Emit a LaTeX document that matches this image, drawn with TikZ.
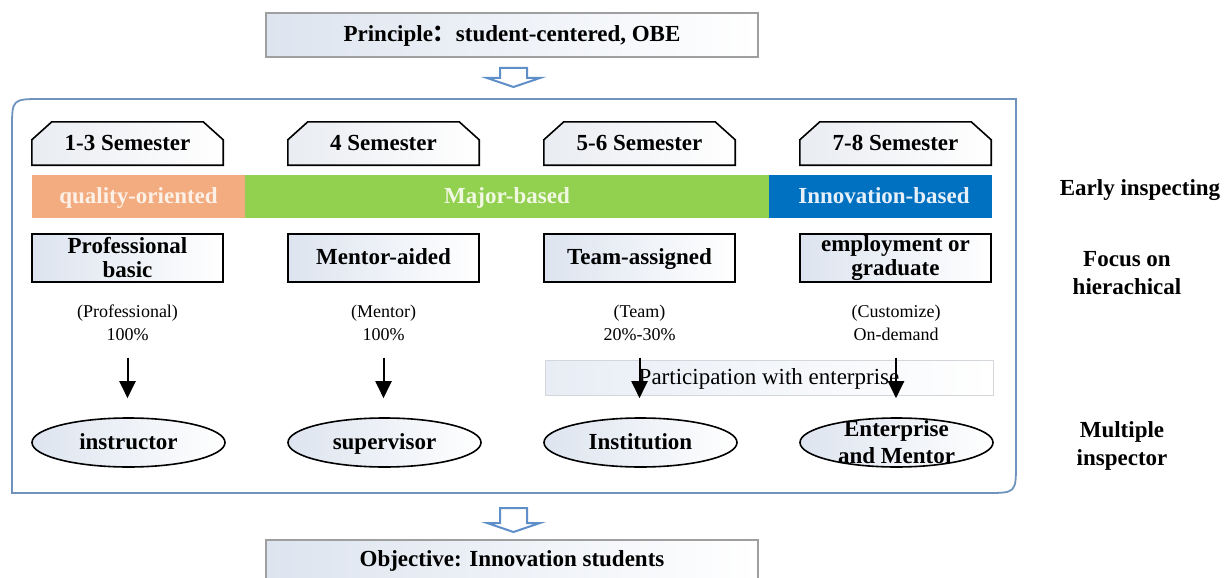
\documentclass[tikz,border=0pt]{standalone}
\usepackage{fontspec}
\setmainfont{Liberation Serif}
\newfontfamily\cjk{Noto Sans CJK SC}
\usetikzlibrary{arrows.meta,shapes.geometric,backgrounds}
\definecolor{boxL}{HTML}{DDE4EF}
\definecolor{tabL}{HTML}{E9ECF1}
\definecolor{frameC}{HTML}{6F93BC}
\definecolor{hollowC}{HTML}{5E8FC8}
\definecolor{barO}{HTML}{F2AC80}
\definecolor{barG}{HTML}{92D050}
\definecolor{barB}{HTML}{0070C0}
\definecolor{txtO}{HTML}{FDF0E6}
\definecolor{txtG}{HTML}{F1F8E2}
\definecolor{txtB}{HTML}{E6F0FA}
\definecolor{partL}{HTML}{E8EDF5}
\definecolor{partB}{HTML}{D3D6DA}
\begin{document}
\begin{tikzpicture}[x=1pt,y=-1pt,
  bold/.style={font=\bfseries\fontsize{23}{25}\selectfont},
  fixh/.style={text height=17pt, text depth=4pt},
  outer/.style={draw=gray!75, line width=1.2pt, left color=boxL, right color=white,
    minimum width=492pt, minimum height=44pt, inner sep=0pt, bold},
  hollow/.style={draw=hollowC, line width=2pt, fill=white, line join=miter},
  tabtext/.style={minimum width=191pt, minimum height=43pt, inner sep=0pt, bold, fixh},
  tabshape/.style={draw=black, line width=1.6pt, left color=tabL, right color=white},
  barbox/.style={minimum height=43pt, inner sep=0pt, bold, fixh},
  rowbox/.style={draw=black, line width=1.6pt, left color=boxL, right color=white,
    minimum width=191pt, minimum height=48pt, inner sep=0pt, align=center,
    font=\bfseries\fontsize{23}{24}\selectfont},
  note/.style={minimum height=46pt, inner sep=0pt, align=center,
    font=\fontsize{18}{23}\selectfont},
  part/.style={draw=partB, line width=1pt, left color=partL, right color=white,
    minimum width=448pt, minimum height=35pt, inner sep=0pt,
    font=\fontsize{23}{25}\selectfont},
  ell/.style={ellipse, draw=black, line width=1.6pt, left color=boxL, right color=white,
    minimum width=193pt, minimum height=49pt, inner sep=0pt},
  arr/.style={line width=2pt, -{Triangle[length=17pt,width=16pt]},
    shorten <=12pt, shorten >=19pt},
  side/.style={align=center, font=\bfseries\fontsize{23}{28}\selectfont}
]
\useasboundingbox (0,0) rectangle (1226,578);

% principle and objective boxes
\node[outer, fixh] (pr) at (512,35) {Principle{\cjk ：}student-centered, OBE};
\node[outer, minimum height=50pt] (ob) at (512,565) {};
\node[bold, fixh] (obt) at (512,560) {Objective: Innovation students};

% hollow arrows
\draw[hollow] (500,68) -- (527,68) -- (527,78) -- (540,78) -- (513.5,87)
  -- (487,78) -- (500,78) -- cycle;
\draw[hollow] (500,508) -- (527,508) -- (527,523) -- (540,523) -- (513.5,532)
  -- (487,523) -- (500,523) -- cycle;

% big frame
\draw[frameC, line width=1.8pt] (12,493) -- (12,129) .. controls (12,99) .. (42,99)
  -- (1016,99) -- (1016,463) .. controls (1016,493) .. (986,493) -- cycle;

% semester tabs
\node[tabtext] (t1) at (127.5,143.5) {1-3 Semester};
\node[tabtext] (t2) at (383.5,143.5) {4 Semester};
\node[tabtext] (t3) at (639.5,143.5) {5-6 Semester};
\node[tabtext] (t4) at (895.5,143.5) {7-8 Semester};
\begin{scope}[on background layer]
\foreach \t in {t1,t2,t3,t4}{
  \path[tabshape] (\t.south west) -- ([yshift=-18pt]\t.north west)
    -- ([xshift=20pt]\t.north west) -- ([xshift=-20pt]\t.north east)
    -- ([yshift=-18pt]\t.north east) -- (\t.south east) -- cycle;
}
\end{scope}

% coloured bar
\node[barbox, fill=barO, minimum width=213pt, text=txtO] (q) at (138.5,196.5) {quality-oriented};
\node[barbox, fill=barG, minimum width=524pt, text=txtG] (m) at (507,196.5) {};
\node[bold, fixh, text=txtG] (mt) at (507,196.5) {Major-based};
\node[barbox, fill=barB, minimum width=223pt, text=txtB] (ib) at (880.5,196.5) {};
\node[bold, fixh, text=txtB] (ibt) at (884,196.5) {Innovation-based};

% row boxes
\node[rowbox] (b1) at (127.5,258) {Professional\\basic};
\node[rowbox, fixh] (b2) at (383.5,258) {Mentor-aided};
\node[rowbox, fixh] (b3) at (639.5,258) {Team-assigned};
\node[rowbox] (b4) at (895.5,258) {employment or\\graduate};

% notes
\node[note] (n1) at (127.5,322.5) {(Professional)\\100\%};
\node[note] (n2) at (383.5,322.5) {(Mentor)\\100\%};
\node[note] (n3) at (639.5,322.5) {(Team)\\20\%-30\%};
\node[note] (n4) at (896,322.5) {(Customize)\\On-demand};

% participation box
\node[part, fixh] (pe) at (769,377.5) {Participation with enterprise};

% ellipses
\node[ell] (e1) at (128.5,442.5) {};
\node[bold, fixh] (e1t) at (e1) {instructor};
\node[ell] (e2) at (384.5,442.5) {};
\node[bold, fixh] (e2t) at (e2) {supervisor};
\node[ell] (e3) at (640.5,442.5) {};
\node[bold, fixh] (e3t) at (e3) {Institution};
\node[ell] (e4) at (896.5,442.5) {};
\node[bold, align=center, font=\bfseries\fontsize{23}{27}\selectfont] (e4t) at (e4) {Enterprise\\and Mentor};

% arrows
\draw[arr] (n1.south) -- (n1.south |- e1.north);
\draw[arr] (n2.south) -- (n2.south |- e2.north);
\draw[arr] (n3.south) -- (n3.south |- e3.north);
\draw[arr] (n4.south) -- (n4.south |- e4.north);

% side labels
\node[side, fixh] (s1) at (1140,189) {Early inspecting};
\node[side] (s2) at (1127,273) {Focus on\\hierachical};
\node[side] (s3) at (1122,446) {Multiple\\inspector};
\end{tikzpicture}
\end{document}
